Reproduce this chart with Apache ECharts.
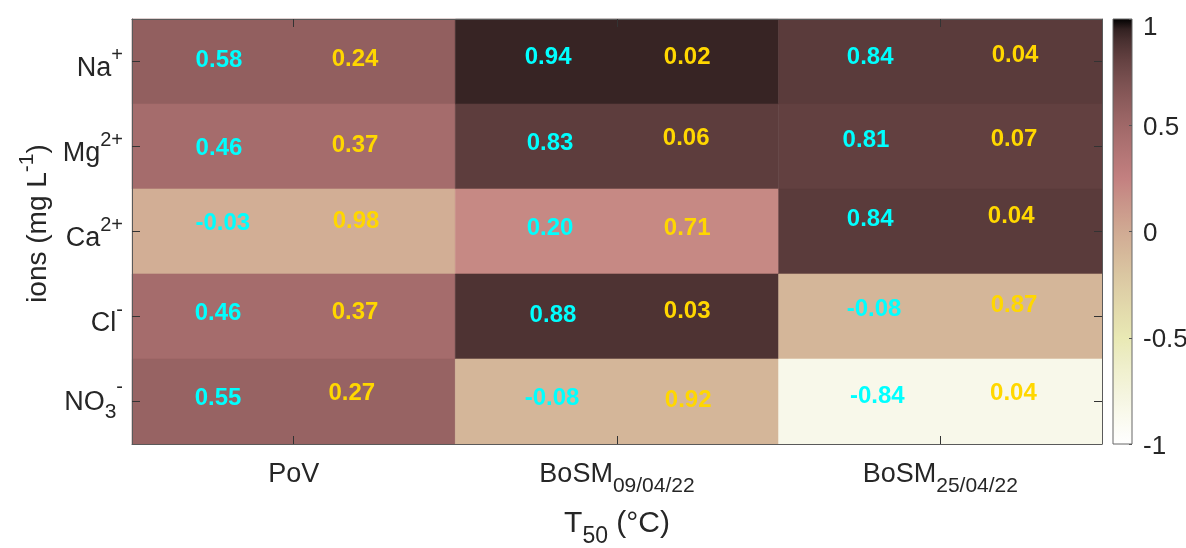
<!DOCTYPE html>
<html><head><meta charset="utf-8">
<script src="https://cdn.jsdelivr.net/npm/echarts@6/dist/echarts.min.js"></script>
<style>html,body{margin:0;padding:0;background:#fff}#c{width:1186px;height:548px}</style>
</head><body><div id="c"></div>
<script>
// ---- data ----
const columns = ['PoV', 'BoSM_09/04/22', 'BoSM_25/04/22'];
const ions = ['Na+', 'Mg2+', 'Ca2+', 'Cl-', 'NO3-'];
// correlation coefficient r (rows = ions, cols = columns)
const rValues = [
  [0.58, 0.94, 0.84],
  [0.46, 0.83, 0.81],
  [-0.03, 0.20, 0.84],
  [0.46, 0.88, -0.08],
  [0.55, -0.08, -0.84]
];
// p-values
const pValues = [
  [0.24, 0.02, 0.04],
  [0.37, 0.06, 0.07],
  [0.98, 0.71, 0.04],
  [0.37, 0.03, 0.87],
  [0.27, 0.92, 0.04]
];
// annotation anchor points in data units (x: 0..3, y: 0..5 from top)
const rTextX = [[0.269,1.287,2.283],[0.269,1.293,2.270],[0.281,1.293,2.283],[0.266,1.302,2.295],[0.266,1.299,2.305]];
const rTextY = [[0.482,0.447,0.447],[1.518,1.459,1.424],[2.400,2.459,2.353],[3.459,3.482,3.412],[4.459,4.459,4.435]];
const pTextX = [[0.690,1.717,2.731],[0.690,1.714,2.728],[0.693,1.717,2.719],[0.690,1.717,2.728],[0.680,1.720,2.726]];
const pTextY = [[0.471,0.447,0.424],[1.482,1.400,1.412],[2.376,2.459,2.318],[3.447,3.435,3.365],[4.400,4.482,4.406]];
const colorbarTicks = [-1, -0.5, 0, 0.5, 1];

// ---- colormap: flipped MATLAB "pink" ----
function clamp(x){ return Math.max(0, Math.min(1, x)); }
function pink(t){
  const hr = clamp(t/0.375), hg = clamp((t-0.375)/0.375), hb = clamp((t-0.75)/0.25);
  const f = h => Math.round(255*Math.sqrt((2*t + h)/3));
  return 'rgb(' + f(hr) + ',' + f(hg) + ',' + f(hb) + ')';
}
function colorOf(v){ return pink((1 - v)/2); }

const FONT = '"Liberation Sans", Arial, Helvetica, sans-serif';
const TXT = '#262626';
const base = {fontFamily: FONT, color: TXT, verticalAlign: 'bottom'};
const richX = {
  b:   Object.assign({fontSize: 27, lineHeight: 29, padding: [0,0,9,0]}, base),
  sub: Object.assign({fontSize: 21, lineHeight: 22, padding: [0,0,0,0]}, base)
};
const richY = {
  b:   Object.assign({fontSize: 27, lineHeight: 29, padding: [0,0,0,0]}, base),
  sup: Object.assign({fontSize: 20, lineHeight: 21, padding: [0,0,17,0]}, base),
  bn:  Object.assign({fontSize: 27, lineHeight: 29, padding: [0,0,6,0]}, base),
  subn: Object.assign({fontSize: 21, lineHeight: 22, padding: [0,0,0,0]}, base),
  supn: Object.assign({fontSize: 20, lineHeight: 21, padding: [0,0,25,0]}, base)
};
function richLabel(s){
  const m = {
    'Na+': '{b|Na}{sup|+}', 'Mg2+': '{b|Mg}{sup|2+}', 'Ca2+': '{b|Ca}{sup|2+}',
    'Cl-': '{b|Cl}{sup|-}', 'NO3-': '{bn|NO}{subn|3}{supn|-}'
  };
  if (m[s]) return m[s];
  const i = s.indexOf('_');
  if (i >= 0) return '{b|' + s.slice(0, i) + '}{sub|' + s.slice(i + 1) + '}';
  return '{b|' + s + '}';
}

const cellData = [];
const textData = [];
for (let i = 0; i < ions.length; i++) {
  for (let j = 0; j < columns.length; j++) {
    cellData.push([j, i, rValues[i][j]]);
    textData.push([rTextX[i][j], rTextY[i][j], rValues[i][j], 0]);
    textData.push([pTextX[i][j], pTextY[i][j], pValues[i][j], 1]);
  }
}
const gradStops = [];
for (let k = 0; k <= 40; k++) gradStops.push({offset: k/40, color: pink(k/40)});

const axisLineStyle = {color: '#5a5a5a', width: 1};
const lineOpt = {show: true, onZero: false, lineStyle: axisLineStyle};
function ticks(){ return {show: true, inside: true, alignWithLabel: true, interval: 0, length: 8, lineStyle: {color: '#333', width: 1}}; }
const chart = echarts.init(document.getElementById('c'), null, {renderer: 'canvas'});
chart.setOption({
  animation: false,
  grid: [
    {left: 132, top: 19, width: 970, height: 425, outerBoundsMode: 'none', containLabel: false},
    {left: 1113, top: 19, width: 19, height: 425, outerBoundsMode: 'none', containLabel: false}
  ],
  xAxis: [
    {type: 'category', gridIndex: 0, data: columns, position: 'bottom', zlevel: 1, z: 10,
     axisLine: lineOpt, axisTick: ticks(), splitLine: {show: false},
     axisLabel: {margin: 24, interval: 0, formatter: v => richLabel(v), rich: richX},
     name: '{b|T}{sub|50}{b| (°C)}', nameLocation: 'middle', nameGap: 72,
     nameTextStyle: {rich: {
       b: Object.assign({}, richX.b, {fontSize: 30, lineHeight: 32, padding: [0,0,9,0]}),
       sub: Object.assign({}, richX.sub, {fontSize: 23, lineHeight: 24})
     }}},
    {type: 'category', gridIndex: 0, data: columns, position: 'top', zlevel: 1, z: 10,
     axisLine: lineOpt, axisTick: ticks(), splitLine: {show: false},
     axisLabel: {show: false}},
    {type: 'value', gridIndex: 0, min: 0, max: 3, show: false},
    {type: 'value', gridIndex: 1, min: 0, max: 1, show: false}
  ],
  yAxis: [
    {type: 'category', gridIndex: 0, data: ions, inverse: true, position: 'left', zlevel: 1, z: 10,
     axisLine: lineOpt, axisTick: ticks(), splitLine: {show: false},
     axisLabel: {margin: 9, interval: 0, padding: [13, 0, 0, 0], formatter: v => richLabel(v), rich: richY},
     name: '{b|ions (mg L}{sup|-1}{b|)}', nameLocation: 'middle', nameGap: 70, nameRotate: 90,
     nameTextStyle: {padding: [0, 0, 0, 16], rich: {
       b: Object.assign({}, richY.b, {fontSize: 28, lineHeight: 30}),
       sup: Object.assign({}, richY.sup, {fontSize: 21, padding: [0,0,14,0]})
     }}},
    {type: 'category', gridIndex: 0, data: ions, inverse: true, position: 'right', zlevel: 1, z: 10,
     axisLine: lineOpt, axisTick: ticks(), splitLine: {show: false},
     axisLabel: {show: false}},
    {type: 'value', gridIndex: 0, min: 0, max: 5, inverse: true, show: false},
    {type: 'value', gridIndex: 1, min: -1, max: 1, interval: 0.5, position: 'right', zlevel: 1, z: 10,
     axisLine: {show: false, onZero: false}, splitLine: {show: false},
     axisTick: {show: true, inside: true, length: 3, lineStyle: {color: '#555'}},
     axisLabel: {margin: 11, fontSize: 26, fontFamily: FONT, color: TXT,
       formatter: v => v === 1 ? '{top|1}' : (v === -1 ? '{bot|-1}' : (colorbarTicks.indexOf(v) >= 0 ? '{m|' + v + '}' : '')),
       rich: {
         top: {fontSize: 26, fontFamily: FONT, color: TXT, padding: [18,0,0,0]},
         m: {fontSize: 26, fontFamily: FONT, color: TXT, padding: [5,0,0,0]},
         bot: {fontSize: 26, fontFamily: FONT, color: TXT, padding: [6,0,0,0]}
       }}}
  ],
  series: [
    {type: 'custom', xAxisIndex: 2, yAxisIndex: 2, data: cellData, z: 1,
     renderItem: function(params, api){
       const c = api.value(0), r = api.value(1), v = api.value(2);
       const p0 = api.coord([c, r]), p1 = api.coord([c + 1, r + 1]);
       return {type: 'rect', shape: {x: p0[0], y: p0[1], width: p1[0] - p0[0], height: p1[1] - p0[1]},
               style: {fill: colorOf(v), stroke: colorOf(v), lineWidth: 0.6}};
     }},
    {type: 'custom', xAxisIndex: 2, yAxisIndex: 2, data: textData, z: 3,
     renderItem: function(params, api){
       const p = api.coord([api.value(0), api.value(1)]);
       const isP = api.value(3) === 1;
       return {type: 'text', x: p[0], y: p[1],
               style: {text: api.value(2).toFixed(2), fill: isP ? '#FFD700' : '#00FFFF',
                       font: 'bold 24px ' + FONT, align: 'center', verticalAlign: 'middle'}};
     }},
    {type: 'custom', xAxisIndex: 3, yAxisIndex: 3, data: [[0, -1, 1]], z: 1,
     renderItem: function(params, api){
       const a = api.coord([0, api.value(2)]), b = api.coord([1, api.value(1)]);
       return {type: 'rect', shape: {x: a[0], y: a[1], width: b[0] - a[0], height: b[1] - a[1]},
               style: {fill: new echarts.graphic.LinearGradient(0, 0, 0, 1, gradStops),
                       stroke: '#666', lineWidth: 1}};
     }}
  ]
});
</script></body></html>
